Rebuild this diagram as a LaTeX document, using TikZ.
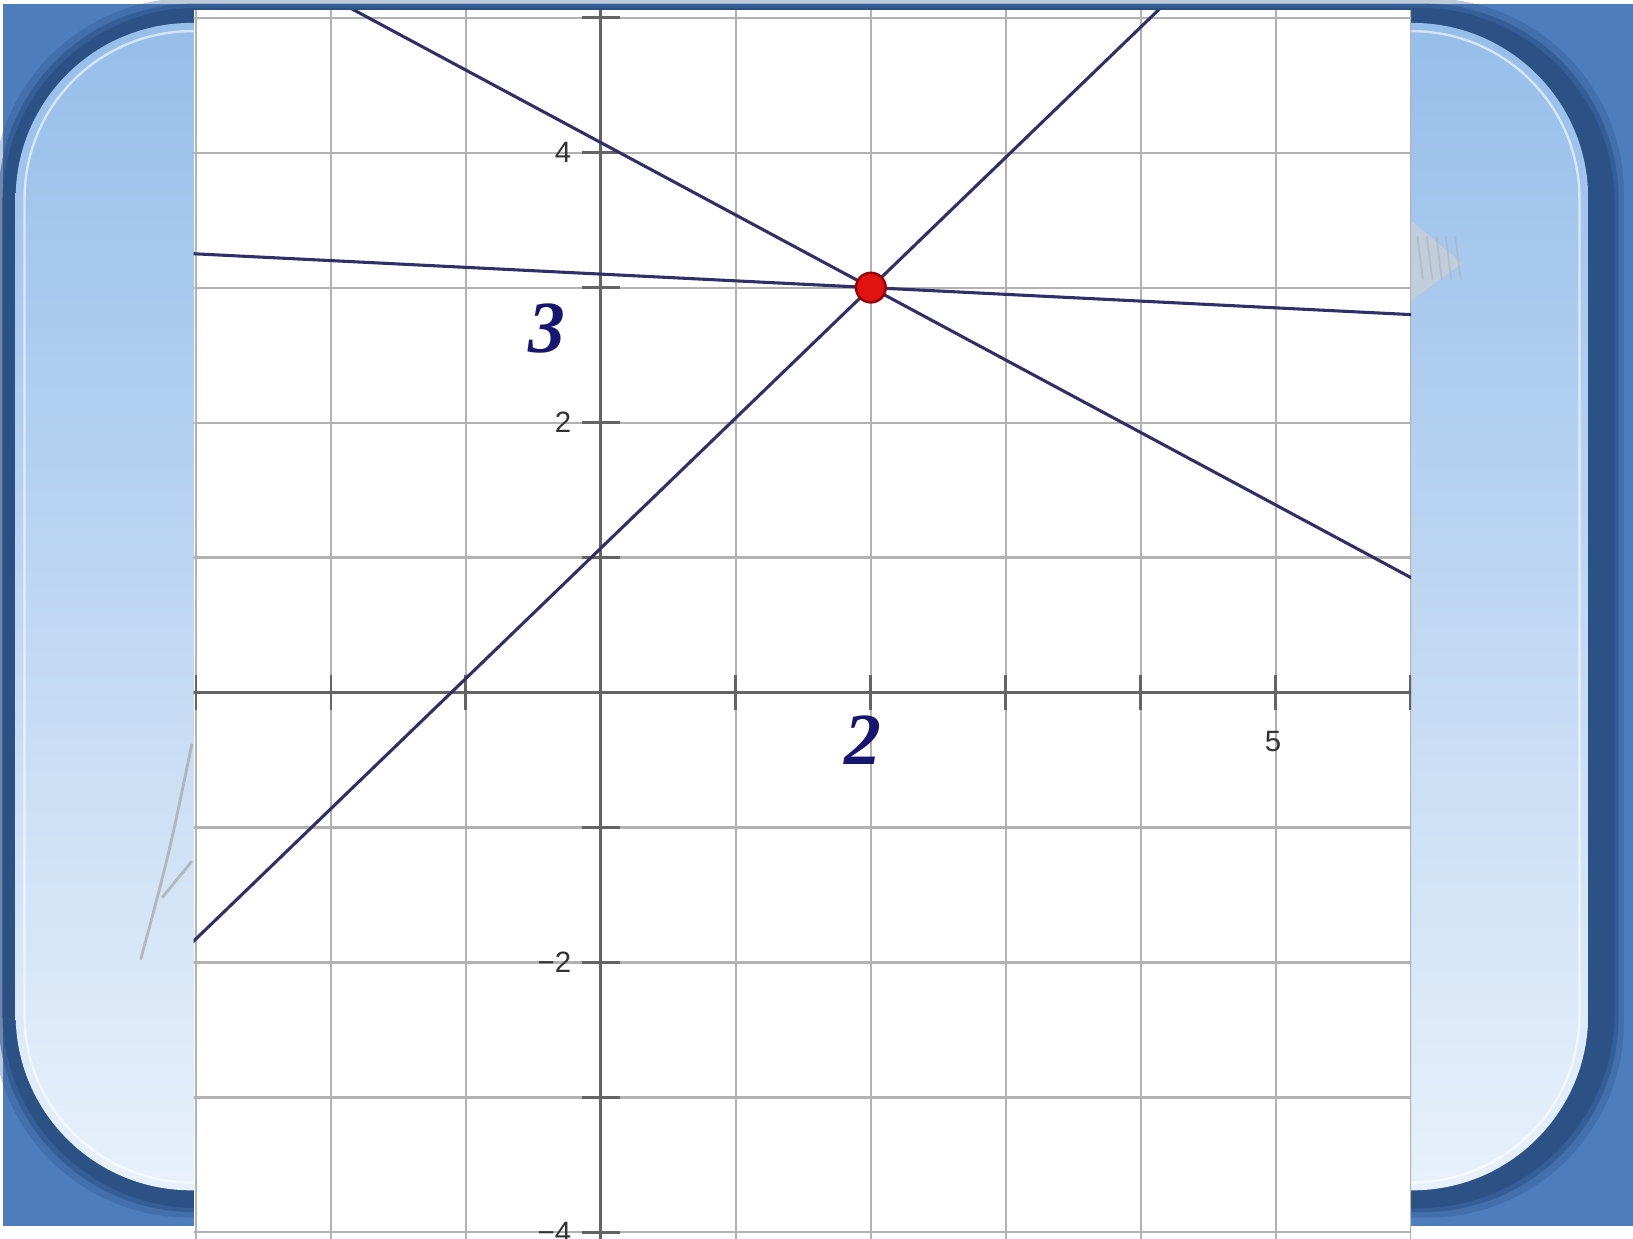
\documentclass[tikz,border=0pt]{standalone}
\usepackage{fontspec}
\setmainfont{Liberation Serif}
\newfontfamily\axisfont{Liberation Sans}
\usetikzlibrary{calc}
\definecolor{frameblue}{RGB}{78,125,190}
\definecolor{shadowblue}{RGB}{42,80,132}
\definecolor{paneltop}{RGB}{150,190,234}
\definecolor{panelbot}{RGB}{232,241,251}
\definecolor{gridgrey}{RGB}{178,178,178}
\definecolor{axisgrey}{RGB}{100,100,100}
\definecolor{linenavy}{RGB}{48,48,104}
\definecolor{labelnavy}{RGB}{22,22,112}
\definecolor{dotred}{RGB}{226,18,18}
\tikzset{
  gridline/.style={
    gridgrey,
    line width=0.45pt
  },
  axisline/.style={
    axisgrey,
    line width=0.65pt
  },
  tickmark/.style={
    axisgrey,
    line width=0.6pt
  },
  graphline/.style={
    linenavy,
    line width=0.65pt
  },
  ticklabel/.style={
    inner sep=0.5pt,
    text=black!80,
    font=\axisfont\fontsize{6.2}{7}\selectfont
  },
  biglabel/.style={
    inner sep=0pt,
    text=labelnavy,
    font=\fontsize{15.5}{16}\selectfont\bfseries\itshape
  },
  point/.style={
    shape=circle,
    inner sep=0pt,
    minimum size=0.22cm,
    fill=dotred,
    draw=red!60!black,
    line width=0.5pt
  }
}
\begin{document}
\begin{tikzpicture}
    \useasboundingbox (-4.452,-4.048) rectangle (7.647,5.131);
    \fill[white] (-4.452,-4.048) rectangle (7.647,5.131);
    \fill[frameblue] (-4.43,-3.951) rectangle (7.647,5.10);
    % frame and shadow
    \foreach \w/\o in {0.09/0.3,0.05/0.55,0.02/0.9}{
            \fill[shadowblue, opacity=\o, rounded corners=1.45cm] (-4.414-\w,-3.80-\w) rectangle (7.49+\w,5.054+\w);
        }
    \shade[top color=paneltop, bottom color=panelbot, rounded corners=1.3cm] (-4.336,-3.688) rectangle (7.315,4.961);
    \draw[white, opacity=0.6, line width=0.5pt, rounded corners=1.24cm] (-4.27,-3.63) rectangle (7.25,4.90);
    \draw[gray!70, opacity=0.7, line width=0.6pt] (-3.41,-1.98) .. controls (-3.2,-1.2) .. (-3.03,-0.38);
    \draw[gray!70, opacity=0.7, line width=0.6pt] (-3.25,-1.52) -- (-3.03,-1.25);
    \fill[gray!35, opacity=0.6] (6.0,3.5) -- (6.38,3.18) -- (6.0,2.9) -- cycle;
    \foreach \h in {6.05,6.12,...,6.33}{
            \draw[gray!60, opacity=0.6, line width=0.4pt] (\h,3.38) -- (\h+0.04,3.06);
        }
    % graph panel
    \fill[white] (-3.017,-4.06) rectangle (6.003,5.054);
    \begin{scope}
        \clip (-3.017,-4.06) rectangle (6.003,5.054);
        \foreach \x in {-3,...,6}{
                \draw[gridline] (\x,-4.1) -- (\x,5.1);
            }
        \foreach \y in {-4,...,5}{
                \draw[gridline] (-3.1,\y) -- (6.1,\y);
            }
        \draw[axisline] (-3.1,0) -- (6.1,0);
        \draw[axisline] (0,-4.1) -- (0,5.1);
        \foreach \x in {-3,...,6}{
                \draw[tickmark] (\x,-0.13) -- (\x,0.13);
            }
        \foreach \y in {-4,...,5}{
                \draw[tickmark] (-0.14,\y) -- (0.14,\y);
            }
        \node[ticklabel, anchor=east] (ty4) at (-0.195,4) {4};
        \node[ticklabel, anchor=east] (ty2) at (-0.195,2) {2};
        \node[ticklabel, anchor=east] (tym2) at (-0.195,-2) {−2};
        \node[ticklabel, anchor=east] (tym4) at (-0.195,-4) {−4};
        \node[ticklabel, anchor=north] (tx5) at (4.98,-0.26) {5};
        \coordinate (P) at (2,3);
        \coordinate (a1) at (-3.3,-2.115);
        \coordinate (a2) at (4.3,5.22);
        \coordinate (b1) at (-2.1,5.202);
        \coordinate (b2) at (6.2,0.745);
        \coordinate (c1) at (-3.2,3.26);
        \coordinate (c2) at (6.2,2.79);
        \draw[graphline] (a1) -- (a2);
        \draw[graphline] (b1) -- (b2);
        \draw[graphline] (c1) -- (c2);
        \node[point] (pt) at (P) {};
        \node[biglabel] (lbl3) at (-0.40,2.70) {3};
        \node[biglabel] (lbl2) at (1.94,-0.35) {2};
    \end{scope}
\end{tikzpicture}
\end{document}
